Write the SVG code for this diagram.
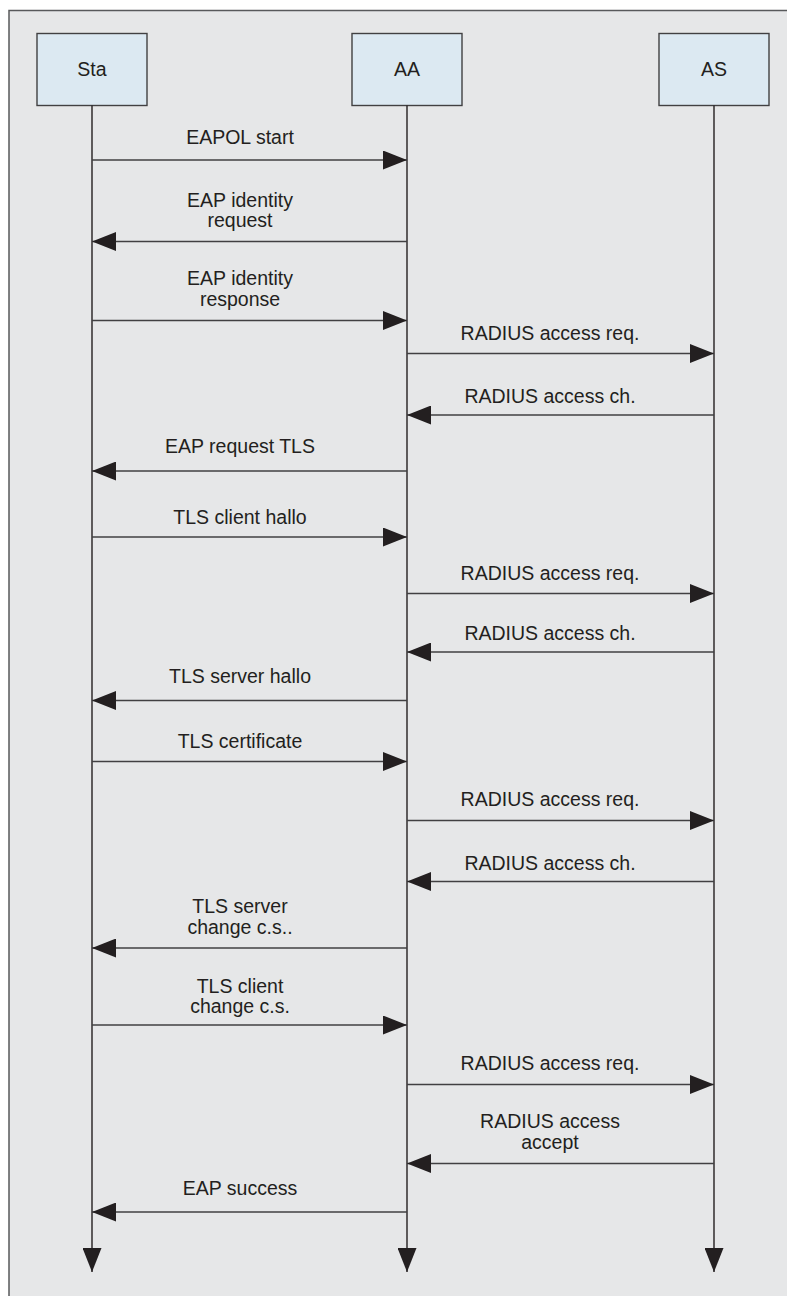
<svg xmlns="http://www.w3.org/2000/svg" width="787" height="1296" viewBox="0 0 787 1296">
<defs>
<marker id="ah" markerUnits="userSpaceOnUse" markerWidth="24" markerHeight="19" refX="24" refY="9.5" orient="auto">
<path d="M0,0 L24,9.5 L0,19 Z" fill="#231f20"/>
</marker>
<style>
.frame{fill:#e6e7e8;stroke:#58595b;stroke-width:1.5}
.box{fill:#dce9f2;stroke:#414042;stroke-width:1.4}
.life{stroke:#231f20;stroke-width:1.4;fill:none;marker-end:url(#ah)}
.msg{stroke:#414042;stroke-width:1.5;fill:none;marker-end:url(#ah)}
text{font-family:"Liberation Sans",Arial,sans-serif;font-size:19.5px;fill:#231f20;text-anchor:middle}
</style>
</defs>
<rect x="0" y="0" width="787" height="1296" fill="#ffffff"/>
<rect class="frame" x="9" y="10.5" width="800" height="1300"/>
<g id="node-sta">
<rect class="box" x="37" y="33.5" width="110" height="72"/>
<text x="92" y="76">Sta</text>
</g>
<g id="node-aa">
<rect class="box" x="352" y="33.5" width="110" height="72"/>
<text x="407" y="76">AA</text>
</g>
<g id="node-as">
<rect class="box" x="659" y="33.5" width="110" height="72"/>
<text x="714" y="76">AS</text>
</g>
<g id="connectors">
<line class="life" x1="92" y1="105.5" x2="92" y2="1272"/>
<line class="life" x1="407" y1="105.5" x2="407" y2="1272"/>
<line class="life" x1="714" y1="105.5" x2="714" y2="1272"/>
<line class="msg" x1="92" y1="160" x2="407" y2="160"/>
<line class="msg" x1="407" y1="241.5" x2="92" y2="241.5"/>
<line class="msg" x1="92" y1="320.5" x2="407" y2="320.5"/>
<line class="msg" x1="407" y1="353.5" x2="714" y2="353.5"/>
<line class="msg" x1="714" y1="415" x2="407" y2="415"/>
<line class="msg" x1="407" y1="471" x2="92" y2="471"/>
<line class="msg" x1="92" y1="537" x2="407" y2="537"/>
<line class="msg" x1="407" y1="593.5" x2="714" y2="593.5"/>
<line class="msg" x1="714" y1="652" x2="407" y2="652"/>
<line class="msg" x1="407" y1="700.5" x2="92" y2="700.5"/>
<line class="msg" x1="92" y1="761.5" x2="407" y2="761.5"/>
<line class="msg" x1="407" y1="820.5" x2="714" y2="820.5"/>
<line class="msg" x1="714" y1="881.5" x2="407" y2="881.5"/>
<line class="msg" x1="407" y1="948" x2="92" y2="948"/>
<line class="msg" x1="92" y1="1025" x2="407" y2="1025"/>
<line class="msg" x1="407" y1="1084.5" x2="714" y2="1084.5"/>
<line class="msg" x1="714" y1="1163.5" x2="407" y2="1163.5"/>
<line class="msg" x1="407" y1="1212" x2="92" y2="1212"/>
<text x="240" y="144">EAPOL start</text>
<text x="240" y="206.7">EAP identity</text>
<text x="240" y="226.7">request</text>
<text x="240" y="285">EAP identity</text>
<text x="240" y="306">response</text>
<text x="550" y="340">RADIUS access req.</text>
<text x="550" y="402.7">RADIUS access ch.</text>
<text x="240" y="453.3">EAP request TLS</text>
<text x="240" y="524">TLS client hallo</text>
<text x="550" y="580">RADIUS access req.</text>
<text x="550" y="640">RADIUS access ch.</text>
<text x="240" y="682.7">TLS server hallo</text>
<text x="240" y="747.7">TLS certificate</text>
<text x="550" y="806">RADIUS access req.</text>
<text x="550" y="870">RADIUS access ch.</text>
<text x="240" y="913">TLS server</text>
<text x="240" y="934">change c.s..</text>
<text x="240" y="992.7">TLS client</text>
<text x="240" y="1013.3">change c.s.</text>
<text x="550" y="1070">RADIUS access req.</text>
<text x="550" y="1128.3">RADIUS access</text>
<text x="550" y="1149.3">accept</text>
<text x="240" y="1195">EAP success</text>
</g>
</svg>
